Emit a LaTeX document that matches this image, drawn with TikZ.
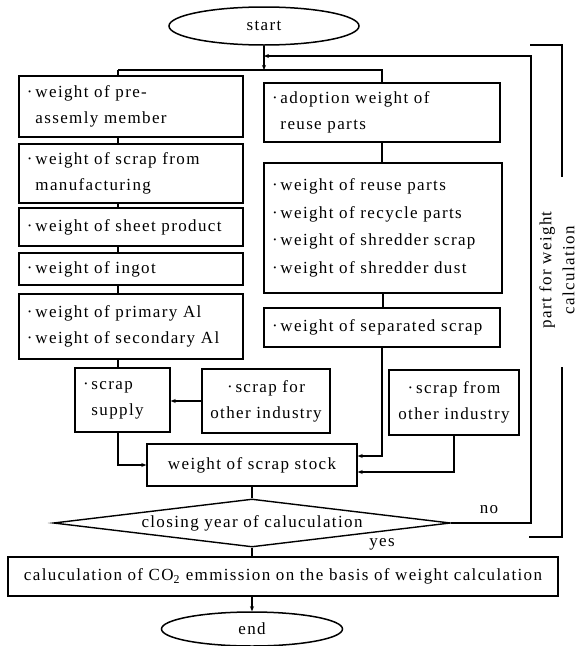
\documentclass[tikz,border=0pt]{standalone}
\usepackage{fontspec}
\setmainfont{Liberation Serif}[LetterSpace=8]
\usetikzlibrary{shapes.geometric,arrows.meta}

\newcommand{\bulind}{\hphantom{·\,}}

\begin{document}
\begin{tikzpicture}[
        x=1pt, y=-1pt,
        every node/.style={font=\fontsize{17}{26}\selectfont},
        box/.style={rectangle, draw, line width=1.4pt, inner xsep=8pt, inner ysep=2pt, align=left},
        cbox/.style={box, align=center},
        term/.style={ellipse, draw, line width=1.5pt, inner sep=0pt},
        arrow/.style={-{Stealth[length=5pt,width=4pt]}, line width=1.2pt},
        link/.style={line width=1.2pt},
        bracket/.style={line width=2.8pt}
    ]
\useasboundingbox (0,0) rectangle (580,646);

% Start and end
        \node[term, minimum width=190pt, minimum height=38pt] (start) at (264,26) {start};
        \node[term, minimum width=181pt, minimum height=34pt] (end) at (252,629) {end};

% Left column
        \node[box, text width=208pt, minimum height=61pt] (pre) at (131,106.5) {·\,weight of pre-\\\bulind assemly member};
        \node[box, text width=208pt, minimum height=59pt] (manu) at (131,173.5) {·\,weight of scrap from\\\bulind manufacturing};
        \node[box, text width=208pt, minimum height=38pt] (sheet) at (131,227) {·\,weight of sheet product};
        \node[box, text width=208pt, minimum height=32pt] (ingot) at (131,269) {·\,weight of ingot};
        \node[box, text width=208pt, minimum height=65pt] (prim) at (131,326.5) {·\,weight of primary Al\\·\,weight of secondary Al};
        \node[box, text width=79pt, minimum height=64pt] (supply) at (122.5,400) {·\,scrap\\\bulind supply};
        \node[cbox, minimum width=128pt, minimum height=64pt] (forind) at (266,401) {·\,scrap for\\other industry};

% Right column
        \node[box, text width=220pt, minimum height=59pt] (adopt) at (382,112.5) {·\,adoption weight of\\\bulind reuse parts};
        \node[box, text width=222pt, minimum height=130pt, font=\fontsize{17}{27.5}\selectfont] (reuse) at (383,228) {·\,weight of reuse parts\\·\,weight of recycle parts\\·\,weight of shredder scrap\\·\,weight of shredder dust};
        \node[box, text width=220pt, minimum height=39pt] (sep) at (382,327.5) {·\,weight of separated scrap};
        \node[cbox, minimum width=130pt, minimum height=65pt] (fromind) at (454,402.5) {·\,scrap from\\other industry};

% Lower part
        \node[cbox, minimum width=210pt, minimum height=42pt] (stock) at (252,465) {weight of scrap stock};
        \node[diamond, draw, line width=1.4pt, inner sep=0pt, aspect=8, minimum width=397pt, minimum height=48pt] (closing) at (252,523) {closing year of caluculation};
        \node[cbox, minimum width=550pt, minimum height=39pt] (co2) at (283,576.5) {caluculation of CO\textsubscript{2} emmission on the basis of weight calculation};

% Labels
        \node (no) at (489,510) {no};
        \node (yes) at (382,544) {yes};
        \node[rotate=90, align=center, font=\fontsize{17}{23}\selectfont] (part) at (557,270) {part for weight\\calculation};

% Connectors
        \coordinate (lspine) at (118,70);
        \coordinate (fb) at (531,56);
        \draw[arrow] (start.south) -- (start.south |- lspine);
        \draw[link] (lspine) -- (lspine -| adopt.north) -- (adopt.north);
        \draw[link] (lspine) -- (lspine |- pre.north);
        \draw[link] (pre.south -| lspine) -- (manu.north -| lspine);
        \draw[link] (manu.south -| lspine) -- (sheet.north -| lspine);
        \draw[link] (sheet.south -| lspine) -- (ingot.north -| lspine);
        \draw[link] (ingot.south -| lspine) -- (prim.north -| lspine);
        \draw[link] (prim.south -| lspine) -- (supply.north -| lspine);
        \draw[arrow] (forind.west) -- (supply.east |- forind.west);
        \draw[arrow] (supply.south -| lspine) |- (stock.west);
        \draw[link] (adopt.south) -- (adopt.south |- reuse.north);
        \draw[link] (reuse.south) -- (reuse.south |- sep.north);
        \draw[arrow] (sep.south) |- ([yshift=9pt]stock.east);
        \draw[arrow] (fromind.south) |- ([yshift=-7pt]stock.east);
        \draw[link] (stock.south) -- (closing.north);
        \draw[link] (closing.south) -- (closing.south |- co2.north);
        \draw[arrow] (co2.south -| end.north) -- (end.north);
        \draw[arrow] (closing.east) -| (fb) -- (fb -| start.south);

% Bracket
        \draw[bracket] (530,45) -- (562,45) -- (562,177);
        \draw[bracket] (562,367) -- (562,537) -- (529,537);

    \end{tikzpicture}
\end{document}
